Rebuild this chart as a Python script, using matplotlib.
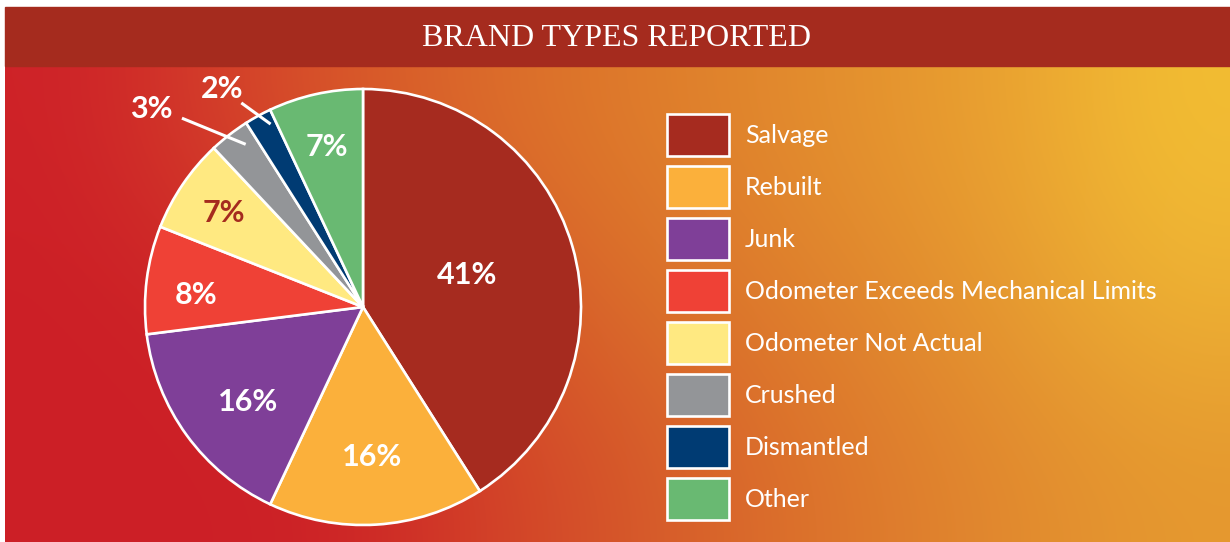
import numpy as np
import matplotlib.pyplot as plt
from matplotlib.patches import Rectangle
from matplotlib.colors import to_rgb

# data
categories = ['Salvage', 'Rebuilt', 'Junk', 'Odometer Exceeds Mechanical Limits',
              'Odometer Not Actual', 'Crushed', 'Dismantled', 'Other']
shares = [41, 16, 16, 8, 7, 3, 2, 7]
pct_labels = ['41%', '16%', '16%', '8%', '7%', '3%', '2%', '7%']
colors = ['#A62B1F', '#FBB03B', '#7F3F98', '#EF4136', '#FFE981', '#939598', '#003B73', '#69B972']

W, H = 1230, 542
fig = plt.figure(figsize=(W / 100, H / 100), dpi=100, facecolor='white')
ax = fig.add_axes([0, 0, 1, 1])

# background gradient (red bottom-left -> yellow top-right)
bg_top = ['#CE2228', '#D33D2A', '#D8582A', '#DB6B2A', '#DE7A2B', '#E1872D', '#E5952F', '#EBA531', '#F2BD33']
bg_mid = ['#CC1F26', '#CD2327', '#D0362A', '#D55229', '#D96A2A', '#DD7A2C', '#E1892E', '#E69C31', '#EDB034']
bg_bot = ['#CC1F26', '#CC1F26', '#CD2326', '#D23F28', '#D5552A', '#DA6A2B', '#DE7C2D', '#E28B2F', '#E5982F']
grid = np.array([[to_rgb(c) for c in row] for row in (bg_top, bg_mid, bg_bot)])
ax.imshow(grid, extent=(5, W, 0, H - 66), aspect='auto', interpolation='bicubic', zorder=0)

# title band
ax.add_patch(Rectangle((5, H - 66), W - 5, 59, color='#A52B1E', zorder=1))
ax.text(617, H - 38, 'BRAND TYPES REPORTED', color='white', ha='center', va='center',
        fontsize=23, family='Liberation Serif', zorder=2)

# pie
R = 218
cx, cy = 363, H - 307
wedges, _ = ax.pie(shares, colors=colors, startangle=90, counterclock=False, radius=R,
                   center=(cx, cy), frame=True,
                   wedgeprops=dict(edgecolor='white', linewidth=1.9))

def pt(ang, r):
    a = np.deg2rad(ang)
    return cx + r * np.cos(a), cy + r * np.sin(a)

label_r = [0.5, 0.69, 0.685, 0.77, 0.77, None, None, 0.75]
label_da = [1, 0, 3.5, 3, 0, 0, 0, 0]
label_col = ['white', 'white', 'white', 'white', '#A52B1E', 'white', 'white', 'white']
for w, lab, r, da, c in zip(wedges, pct_labels, label_r, label_da, label_col):
    if r is None:
        continue
    mid = (w.theta1 + w.theta2) / 2
    x, y = pt(mid + da, r * R)
    ax.text(x, y, lab, color=c, ha='center', va='center', fontsize=22,
            fontweight='bold', family='Lato', zorder=5)

# small slices labelled outside with leader lines
outside = {5: [(-2, 0.92), (6, 1.2), (9, 1.33)],
           6: [(-2, 0.94), (2, 1.09), (4, 1.19)]}
for i, ((a0, r0), (a1, r1), (a2, r2)) in outside.items():
    mid = (wedges[i].theta1 + wedges[i].theta2) / 2
    x0, y0 = pt(mid + a0, r0 * R)
    x1, y1 = pt(mid + a1, r1 * R)
    ax.plot([x0, x1], [y0, y1], color='white', lw=2.2, solid_capstyle='butt', zorder=5)
    tx, ty = pt(mid + a2, r2 * R)
    ax.text(tx, ty, pct_labels[i], color='white', ha='center', va='center', fontsize=22,
            fontweight='bold', family='Lato', zorder=5)

ax.set_xlim(0, W)
ax.set_ylim(0, H)
ax.axis('off')

# legend: matplotlib trims the handle box by 0.35*(h-0.7) font sizes, undo that
fs = 18
px = fs * 100 / 72
hh = (42 / px - 0.245) / 0.65
leg = ax.legend(wedges, categories, loc='upper left', bbox_to_anchor=(667 / W, 1 - 114 / H),
                bbox_transform=fig.transFigure, frameon=False, borderpad=0, borderaxespad=0,
                handlelength=62 / px, handleheight=hh, handletextpad=16 / px,
                labelspacing=10 / px, prop=dict(family='Lato', size=fs))
for t in leg.get_texts():
    t.set_color('white')

fig.savefig('out.png', dpi=100, facecolor='white')
